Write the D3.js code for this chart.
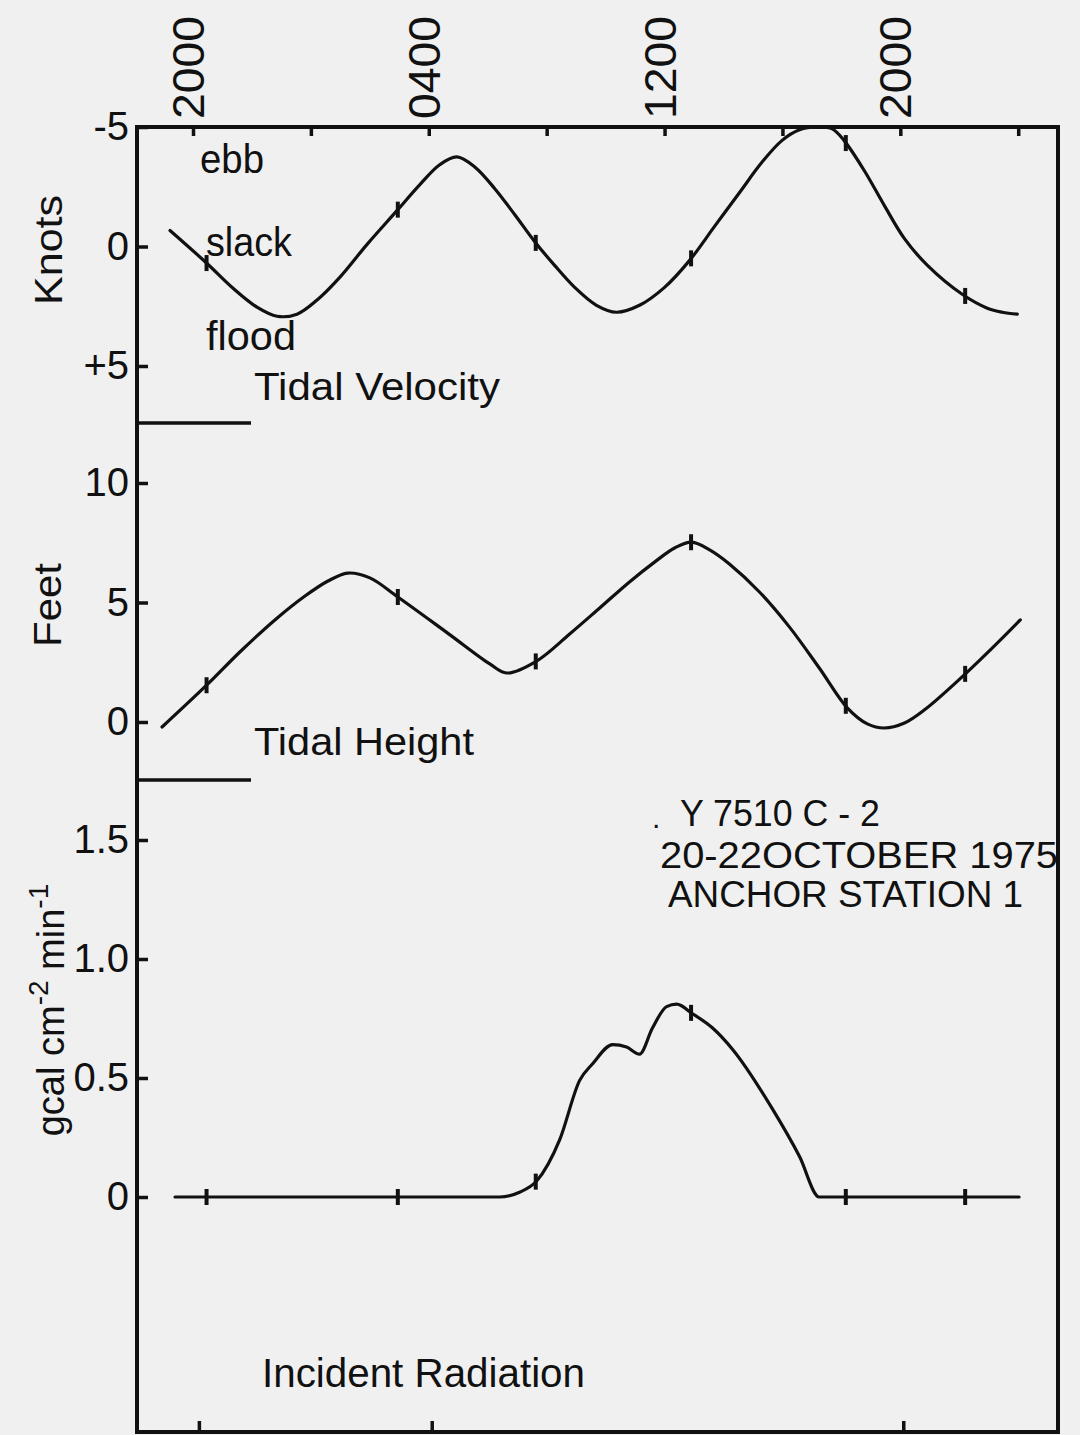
<!DOCTYPE html>
<html>
<head>
<meta charset="utf-8">
<script src="https://cdn.jsdelivr.net/npm/d3@7"></script>
<style>
  html, body { margin: 0; padding: 0; background: #f0f0f0; }
  svg { display: block; }
  text { font-family: "Liberation Sans", Arial, sans-serif; fill: #111; }
</style>
</head>
<body>
<svg id="chart" width="1080" height="1435"></svg>
<script>
// ---------------- DATA ----------------
// time axis: hours after 2000 on 20 October
const topTickHours = [0, 4, 8, 12, 16, 20, 24, 28];
const topLabelHours = [0, 8, 16, 24];
const topLabels = ["2000", "0400", "1200", "2000"];
const bottomTickHours = [0.2, 8.1, 24.1];

// sampling markers (hours)
const markerHours = [0.46, 6.95, 11.63, 16.9, 22.15, 26.2];

// Tidal velocity (knots; negative = ebb, positive = flood)
const velHours = [-0.78, 0.44, 1.36, 2.17, 2.85, 3.53, 4.20, 4.98, 5.90, 6.92, 7.69, 8.37, 8.95, 9.56, 10.24, 10.92, 11.59, 12.27, 12.95, 13.69, 14.37, 15.15, 16.0, 16.85, 17.69, 18.54, 19.29, 19.97, 20.58, 21.19, 21.69, 22.10, 22.78, 23.46, 24.14, 24.92, 26.10, 26.95, 27.46, 27.97];
const velKnots = [-0.67, 0.67, 1.75, 2.54, 2.92, 2.83, 2.25, 1.29, -0.08, -1.5, -2.58, -3.42, -3.75, -3.33, -2.42, -1.33, -0.21, 0.79, 1.71, 2.46, 2.75, 2.46, 1.71, 0.58, -0.83, -2.25, -3.5, -4.42, -4.88, -5.0, -4.92, -4.42, -3.17, -1.71, -0.33, 0.79, 2.0, 2.58, 2.75, 2.83];
const velTicks = [-5, 0, 5];
const velTickLabels = ["-5", "0", "+5"];

// Tidal height (feet)
const hgtHours = [-1.05, 0.47, 1.59, 2.78, 3.8, 4.58, 5.25, 6.0, 6.95, 8.64, 10.07, 10.64, 11.66, 12.78, 13.8, 14.81, 15.66, 16.34, 16.92, 17.53, 18.2, 19.22, 20.24, 21.25, 22.2, 22.88, 23.46, 24.14, 24.81, 26.27, 28.07];
const hgtFeet = [-0.21, 1.55, 2.93, 4.27, 5.27, 5.9, 6.23, 6.03, 5.23, 3.72, 2.43, 2.05, 2.55, 3.68, 4.77, 5.86, 6.69, 7.28, 7.53, 7.2, 6.61, 5.44, 3.97, 2.26, 0.59, -0.08, -0.25, -0.04, 0.5, 2.09, 4.27];
const hgtTicks = [0, 5, 10];
const hgtTickLabels = ["0", "5", "10"];

// Incident radiation (gcal cm-2 min-1)
const radHours = [-0.61, 0.47, 7.0, 9.73, 10.41, 11.08, 11.66, 12.44, 13.12, 13.56, 14.24, 14.71, 15.15, 15.59, 16.07, 16.41, 16.95, 17.63, 18.31, 19.66, 20.58, 21.25, 22.2, 26.2, 28.03];
const radValues = [0, 0, 0, 0, 0, 0.02, 0.067, 0.24, 0.49, 0.56, 0.64, 0.63, 0.60, 0.71, 0.80, 0.81, 0.77, 0.71, 0.62, 0.37, 0.17, 0, 0, 0, 0];
const radTicks = [0, 0.5, 1.0, 1.5];
const radTickLabels = ["0", "0.5", "1.0", "1.5"];

const annotationLines = ["Y 7510 C - 2", "20-22OCTOBER 1975", "ANCHOR STATION 1"];

// ---------------- DRAW ----------------
const svg = d3.select("#chart");
svg.append("rect").attr("width", 1080).attr("height", 1435).attr("fill", "#f0f0f0");

const plotL = 137, plotR = 1058, plotT = 127, plotB = 1432;
const x = d3.scaleLinear().domain([-1.9, 29.35]).range([plotL, plotR]);
const yV = d3.scaleLinear().domain([-5, 5]).range([127, 366]);
const yH = d3.scaleLinear().domain([0, 10]).range([722, 483]);
const yR = d3.scaleLinear().domain([0, 1.5]).range([1197, 840]);

function styleAxis(g, sw) {
  g.select(".domain").remove();
  g.selectAll(".tick line").attr("stroke", "#111").attr("stroke-width", sw);
  g.selectAll(".tick text").attr("fill", "#111");
}

// frame
svg.append("rect").attr("x", plotL).attr("y", plotT)
  .attr("width", plotR - plotL).attr("height", plotB - plotT)
  .attr("fill", "none").attr("stroke", "#111").attr("stroke-width", 4);

// top ticks
const gTop = svg.append("g").attr("transform", `translate(0,${plotT})`)
  .call(d3.axisBottom(x).tickValues(topTickHours).tickSize(9).tickSizeOuter(0).tickFormat(""));
styleAxis(gTop, 3.5);

// top labels (rotated)
svg.append("g").selectAll("text").data(topLabelHours).join("text")
  .attr("transform", d => `translate(${x(d) + 11},119) rotate(-90)`)
  .attr("text-anchor", "start")
  .attr("font-size", 44)
  .attr("textLength", 103).attr("lengthAdjust", "spacingAndGlyphs")
  .text((d, i) => topLabels[i]);

// bottom ticks
const gBot = svg.append("g").attr("transform", `translate(0,${plotB})`)
  .call(d3.axisTop(x).tickValues(bottomTickHours).tickSize(11).tickSizeOuter(0).tickFormat(""));
styleAxis(gBot, 3.5);

// left axes
function leftAxis(scale, ticks, labels) {
  const g = svg.append("g").attr("transform", `translate(${plotL},0)`)
    .call(d3.axisLeft(scale).tickValues(ticks).tickSize(-11).tickSizeOuter(0).tickPadding(8)
      .tickFormat((d, i) => labels[i]));
  styleAxis(g, 3.5);
  g.selectAll(".tick text").attr("font-size", 40).attr("font-family", "Liberation Sans, Arial, sans-serif");
}
leftAxis(yV, velTicks, velTickLabels);
leftAxis(yH, hgtTicks, hgtTickLabels);
leftAxis(yR, radTicks, radTickLabels);

// panel separators
[423, 780].forEach(yy => {
  svg.append("line").attr("x1", plotL).attr("x2", 251).attr("y1", yy).attr("y2", yy)
    .attr("stroke", "#111").attr("stroke-width", 3.5);
});

// curves
function interp(hs, vs, t) {
  const i = d3.bisectRight(hs, t);
  if (i <= 0) return vs[0];
  if (i >= hs.length) return vs[vs.length - 1];
  const f = (t - hs[i - 1]) / (hs[i] - hs[i - 1]);
  return vs[i - 1] + f * (vs[i] - vs[i - 1]);
}
function drawSeries(hs, vs, yScale, curve) {
  const line = d3.line().x((d, i) => x(hs[i])).y((d, i) => yScale(vs[i])).curve(curve);
  svg.append("path").datum(vs).attr("d", line)
    .attr("fill", "none").attr("stroke", "#111").attr("stroke-width", 3.2)
    .attr("stroke-linejoin", "round").attr("stroke-linecap", "round");
  svg.append("g").selectAll("line").data(markerHours).join("line")
    .attr("x1", d => x(d)).attr("x2", d => x(d))
    .attr("y1", d => yScale(interp(hs, vs, d)) - 8)
    .attr("y2", d => yScale(interp(hs, vs, d)) + 8)
    .attr("stroke", "#111").attr("stroke-width", 4);
}
drawSeries(velHours, velKnots, yV, d3.curveCatmullRom.alpha(0.5));
drawSeries(hgtHours, hgtFeet, yH, d3.curveCatmullRom.alpha(0.5));
drawSeries(radHours, radValues, yR, d3.curveMonotoneX);

// in-plot labels
function label(txt, xx, yy, fs, len) {
  const t = svg.append("text").attr("x", xx).attr("y", yy).attr("font-size", fs).text(txt);
  if (len) t.attr("textLength", len).attr("lengthAdjust", "spacingAndGlyphs");
  return t;
}
label("ebb", 200, 173, 40, 64);
label("slack", 206, 256, 40, 86);
label("flood", 206, 350, 40, 90);
label("Tidal Velocity", 254, 400, 38, 246);
label("Tidal Height", 254, 755, 38, 220);
label("Incident Radiation", 262, 1387, 40, 323);

// annotation block
label(".", 652, 828, 30);
label(annotationLines[0], 680, 826, 36, 200);
label(annotationLines[1], 660, 868, 36, 398);
label(annotationLines[2], 668, 907, 36, 355);

// y axis titles
function ytitle(cx, cy) {
  return svg.append("text")
    .attr("transform", `translate(${cx},${cy}) rotate(-90)`)
    .attr("text-anchor", "middle").attr("font-size", 38);
}
ytitle(62, 250).attr("textLength", 110).attr("lengthAdjust", "spacingAndGlyphs").text("Knots");
ytitle(61, 605).attr("textLength", 84).attr("lengthAdjust", "spacingAndGlyphs").text("Feet");
const gt = ytitle(64, 1010);
gt.append("tspan").text("gcal cm");
gt.append("tspan").attr("dy", -16).attr("font-size", 28).text("-2");
gt.append("tspan").attr("dy", 16).text(" min");
gt.append("tspan").attr("dy", -16).attr("font-size", 28).text("-1");
</script>
</body>
</html>
